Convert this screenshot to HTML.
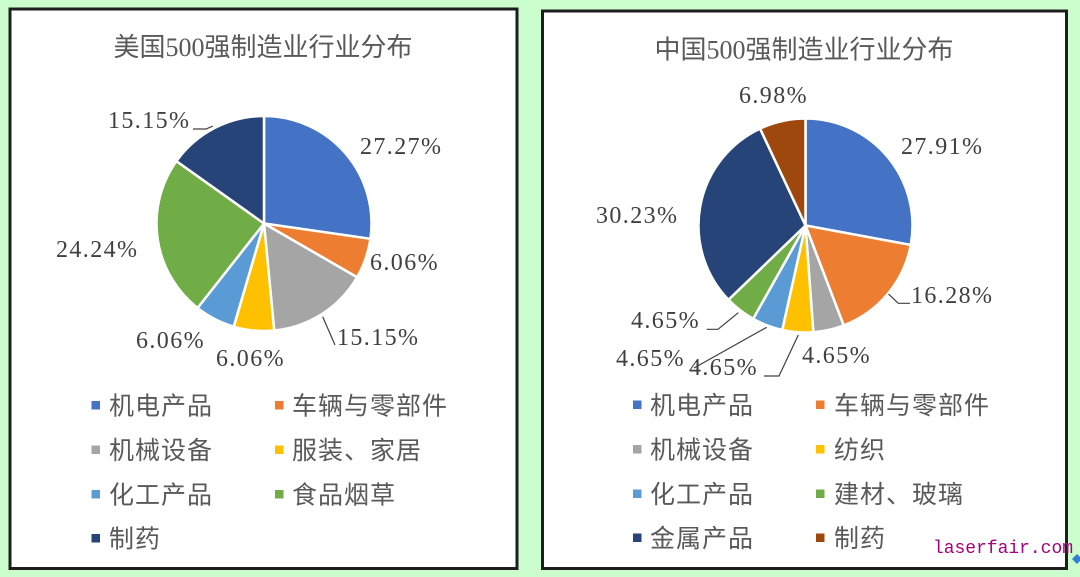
<!DOCTYPE html>
<html>
<head>
<meta charset="utf-8">
<style>
  html,body{margin:0;padding:0;background:#ccfdcc;}
  svg{display:block;}
  .ttl{font-family:"Liberation Serif","Noto Sans CJK SC",serif;font-size:26px;fill:#595959;}
  .lbl{font-family:"Liberation Serif",serif;font-size:24px;fill:#404040;letter-spacing:1.4px;}
  .lg{font-family:"Liberation Sans","Noto Sans CJK SC",sans-serif;font-size:25px;fill:#595959;letter-spacing:1px;}
  .wm{font-family:"Liberation Mono",monospace;font-size:18px;fill:#a4007f;}
</style>
</head>
<body>
<svg width="1080" height="577" viewBox="0 0 1080 577" xmlns="http://www.w3.org/2000/svg">
  <rect x="0" y="0" width="1080" height="577" fill="#ccfdcc"/>

  <!-- Left panel -->
  <rect x="10" y="9" width="507" height="559.5" fill="#ffffff" stroke="#1e1e1e" stroke-width="3"/>
  <text class="ttl" x="263" y="56" text-anchor="middle">美国500强制造业行业分布</text>

  <g stroke="#ffffff" stroke-width="2.5" stroke-linejoin="round">
    <path d="M264,223.5 L264,116 A107.5,107.5 0 0 1 370.41,238.80 Z" fill="#4472C4"/>
    <path d="M264,223.5 L370.41,238.80 A107.5,107.5 0 0 1 357.10,277.25 Z" fill="#ED7D31"/>
    <path d="M264,223.5 L357.10,277.25 A107.5,107.5 0 0 1 274.22,330.51 Z" fill="#A5A5A5"/>
    <path d="M264,223.5 L274.22,330.51 A107.5,107.5 0 0 1 233.71,326.64 Z" fill="#FFC000"/>
    <path d="M264,223.5 L233.71,326.64 A107.5,107.5 0 0 1 197.55,308.00 Z" fill="#5B9BD5"/>
    <path d="M264,223.5 L197.55,308.00 A107.5,107.5 0 0 1 176.43,161.14 Z" fill="#70AD47"/>
    <path d="M264,223.5 L176.43,161.14 A107.5,107.5 0 0 1 264,116 Z" fill="#264478"/>
  </g>

  <g fill="none" stroke="#404040" stroke-width="1.2">
    <polyline points="193,129 206,129 213,126"/>
    <polyline points="322.7,316.7 335,345"/>
  </g>

  <text class="lbl" x="360" y="154">27.27%</text>
  <text class="lbl" x="370" y="270">6.06%</text>
  <text class="lbl" x="337" y="345">15.15%</text>
  <text class="lbl" x="216" y="366">6.06%</text>
  <text class="lbl" x="136" y="348">6.06%</text>
  <text class="lbl" x="56" y="257">24.24%</text>
  <text class="lbl" x="108" y="128">15.15%</text>

  <!-- Left legend -->
  <rect x="91.5" y="401" width="8.5" height="8.5" fill="#4472C4"/>
  <text class="lg" x="109" y="414.5">机电产品</text>
  <rect x="275" y="401" width="8.5" height="8.5" fill="#ED7D31"/>
  <text class="lg" x="292" y="414.5">车辆与零部件</text>

  <rect x="91.5" y="445.5" width="8.5" height="8.5" fill="#A5A5A5"/>
  <text class="lg" x="109" y="459">机械设备</text>
  <rect x="275" y="445.5" width="8.5" height="8.5" fill="#FFC000"/>
  <text class="lg" x="292" y="459">服装、家居</text>

  <rect x="91.5" y="490" width="8.5" height="8.5" fill="#5B9BD5"/>
  <text class="lg" x="109" y="503.5">化工产品</text>
  <rect x="275" y="490" width="8.5" height="8.5" fill="#70AD47"/>
  <text class="lg" x="292" y="503.5">食品烟草</text>

  <rect x="91.5" y="534" width="8.5" height="8.5" fill="#264478"/>
  <text class="lg" x="109" y="547.5">制药</text>

  <!-- Right panel -->
  <rect x="542.5" y="11" width="524" height="557.5" fill="#ffffff" stroke="#1e1e1e" stroke-width="3"/>
  <text class="ttl" x="804" y="58.5" text-anchor="middle">中国500强制造业行业分布</text>

  <g stroke="#ffffff" stroke-width="2.5" stroke-linejoin="round">
    <path d="M805.5,225.5 L805.5,118.5 A107,107 0 0 1 910.72,244.93 Z" fill="#4472C4"/>
    <path d="M805.5,225.5 L910.72,244.93 A107,107 0 0 1 843.72,325.44 Z" fill="#ED7D31"/>
    <path d="M805.5,225.5 L843.72,325.44 A107,107 0 0 1 813.31,332.21 Z" fill="#A5A5A5"/>
    <path d="M805.5,225.5 L813.31,332.21 A107,107 0 0 1 782.23,329.94 Z" fill="#FFC000"/>
    <path d="M805.5,225.5 L782.23,329.94 A107,107 0 0 1 753.14,318.81 Z" fill="#5B9BD5"/>
    <path d="M805.5,225.5 L753.14,318.81 A107,107 0 0 1 728.47,299.76 Z" fill="#70AD47"/>
    <path d="M805.5,225.5 L728.47,299.76 A107,107 0 0 1 760.08,128.62 Z" fill="#264478"/>
    <path d="M805.5,225.5 L760.08,128.62 A107,107 0 0 1 805.5,118.5 Z" fill="#9E480E"/>
  </g>

  <g fill="none" stroke="#404040" stroke-width="1.2">
    <polyline points="888.5,294 898.3,303.3 910,303.3"/>
    <polyline points="738.3,312.7 718,329.3 706.7,329.3"/>
    <polyline points="766.7,327.3 694,368"/>
    <polyline points="798.3,335 779,376 764,376"/>
  </g>

  <text class="lbl" x="739" y="103">6.98%</text>
  <text class="lbl" x="901" y="154">27.91%</text>
  <text class="lbl" x="596" y="223">30.23%</text>
  <text class="lbl" x="911" y="303">16.28%</text>
  <text class="lbl" x="631" y="328">4.65%</text>
  <text class="lbl" x="616" y="366">4.65%</text>
  <text class="lbl" x="689" y="375">4.65%</text>
  <text class="lbl" x="802" y="363">4.65%</text>

  <!-- Right legend -->
  <rect x="633" y="400.5" width="8.5" height="8.5" fill="#4472C4"/>
  <text class="lg" x="650" y="414">机电产品</text>
  <rect x="816" y="400.5" width="8.5" height="8.5" fill="#ED7D31"/>
  <text class="lg" x="834" y="414">车辆与零部件</text>

  <rect x="633" y="445" width="8.5" height="8.5" fill="#A5A5A5"/>
  <text class="lg" x="650" y="458.5">机械设备</text>
  <rect x="816" y="445" width="8.5" height="8.5" fill="#FFC000"/>
  <text class="lg" x="834" y="458.5">纺织</text>

  <rect x="633" y="489.5" width="8.5" height="8.5" fill="#5B9BD5"/>
  <text class="lg" x="650" y="503">化工产品</text>
  <rect x="816" y="489.5" width="8.5" height="8.5" fill="#70AD47"/>
  <text class="lg" x="834" y="503">建材、玻璃</text>

  <rect x="633" y="533.5" width="8.5" height="8.5" fill="#264478"/>
  <text class="lg" x="650" y="547">金属产品</text>
  <rect x="816" y="533.5" width="8.5" height="8.5" fill="#9E480E"/>
  <text class="lg" x="834" y="547">制药</text>

  <!-- watermark -->
  <text class="wm" x="933" y="553" textLength="140" lengthAdjust="spacingAndGlyphs">laserfair.com</text>
  <polygon points="1072,559 1077,554 1082,559 1077,564" fill="#2f7fd6"/>
</svg>
</body>
</html>
